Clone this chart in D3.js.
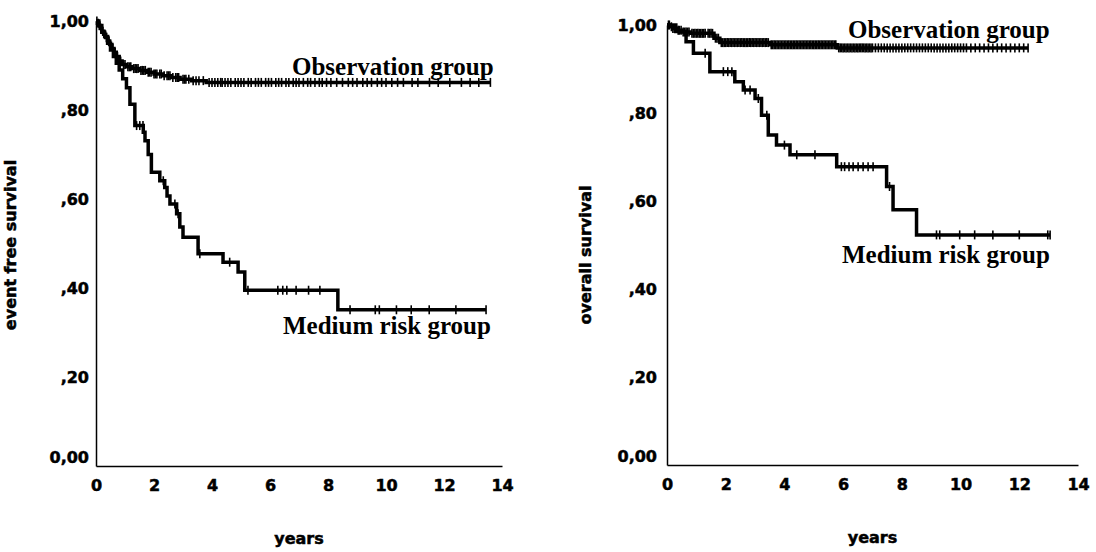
<!DOCTYPE html>
<html>
<head>
<meta charset="utf-8">
<script src="https://cdn.jsdelivr.net/npm/d3@7"></script>
<style>
  body { margin: 0; background: #fff; }
  .tick text, .axis-title { font-family: "DejaVu Sans", sans-serif; font-weight: bold; fill: #000; stroke: #000; stroke-width: 0.5px; }
  .grp { font-family: "Liberation Serif", "Times New Roman", serif; font-weight: bold; fill: #000; }
</style>
</head>
<body>
<svg width="1096" height="552"></svg>
<script>
// ---- data (years, survival) ----
var xTicks = [0, 2, 4, 6, 8, 10, 12, 14];
var yTicks = [0, 0.2, 0.4, 0.6, 0.8, 1.0];

// event free survival, observation group
var efsObsT = [0, 0.05, 0.1, 0.15, 0.2, 0.27, 0.33, 0.4, 0.47, 0.55, 0.62, 0.7, 0.8, 0.9, 1.05, 1.25, 1.5, 1.75, 2.0, 2.3, 2.6, 2.9, 3.3, 3.8];
var efsObsS = [1, 0.995, 0.99, 0.983, 0.977, 0.97, 0.963, 0.955, 0.947, 0.938, 0.93, 0.92, 0.91, 0.902, 0.897, 0.893, 0.889, 0.885, 0.881, 0.877, 0.873, 0.869, 0.866, 0.862];
var efsObsEnd = 13.6;
var efsObsCens = [0.03, 0.08, 0.12, 0.18, 0.23, 0.3, 0.36, 0.45, 0.5, 0.58, 0.66, 0.74, 0.85, 0.95, 1.0, 1.1, 1.15, 1.2, 1.3, 1.35, 1.4, 1.45, 1.55, 1.6, 1.65, 1.7, 1.8, 1.85, 1.9, 2.0, 2.05, 2.1, 2.2, 2.25, 2.35, 2.45, 2.5, 2.55, 2.65, 2.75, 2.8, 2.85, 3.0, 3.05, 3.1, 3.2, 3.35, 3.45, 3.55, 3.7, 3.9, 4.0, 4.1, 4.2, 4.3, 4.35, 4.45, 4.55, 4.65, 4.8, 4.9, 5.0, 5.1, 5.25, 5.35, 5.5, 5.6, 5.7, 5.85, 5.95, 6.05, 6.2, 6.3, 6.4, 6.55, 6.65, 6.8, 6.9, 7.0, 7.15, 7.3, 7.4, 7.55, 7.7, 7.8, 7.95, 8.1, 8.3, 8.5, 8.7, 8.85, 9.0, 9.2, 9.35, 9.5, 9.7, 9.85, 10.0, 10.2, 10.4, 10.6, 10.9, 11.1, 11.5, 11.8, 12.2, 12.6, 12.9, 13.2];

// event free survival, medium risk group
var efsMedT = [0, 0.1, 0.2, 0.3, 0.4, 0.5, 0.6, 0.7, 0.8, 0.92, 1.05, 1.17, 1.34, 1.63, 1.69, 1.8, 1.91, 2.2, 2.37, 2.45, 2.55, 2.78, 2.89, 3.0, 3.52, 4.38, 4.9, 5.13, 8.34];
var efsMedS = [1, 0.99, 0.975, 0.965, 0.95, 0.935, 0.92, 0.905, 0.89, 0.87, 0.85, 0.813, 0.765, 0.75, 0.731, 0.7, 0.66, 0.641, 0.626, 0.607, 0.589, 0.567, 0.537, 0.514, 0.477, 0.458, 0.436, 0.395, 0.351];
var efsMedEnd = 13.45;
var efsMedCens = [1.4, 1.51, 1.62, 2.32, 2.72, 2.83, 3.58, 4.61, 5.24, 6.27, 6.44, 6.58, 6.9, 7.33, 7.72, 8.76, 9.63, 9.77, 10.36, 10.87, 11.49, 12.41];

// overall survival, observation group
var osObsT = [0, 0.1, 0.2, 0.35, 0.5, 0.8, 1.6, 1.8, 3.5, 5.8];
var osObsS = [1, 0.996, 0.992, 0.988, 0.984, 0.981, 0.97, 0.96, 0.955, 0.948];
var osObsEnd = 12.3;
var osObsCens = [0.05, 0.08, 0.15, 0.2, 0.25, 0.3, 0.38, 0.42, 0.48, 0.55, 0.6, 0.65, 0.7, 0.75, 0.85, 0.9, 0.95, 1.0, 1.05, 1.1, 1.15, 1.2, 1.25, 1.3, 1.4, 1.45, 1.5, 1.55, 1.65, 1.7, 1.75, 1.85, 1.9, 1.95, 2.0, 2.05, 2.1, 2.15, 2.2, 2.25, 2.3, 2.35, 2.4, 2.45, 2.5, 2.55, 2.6, 2.65, 2.7, 2.75, 2.8, 2.85, 2.9, 2.95, 3.0, 3.05, 3.1, 3.15, 3.2, 3.25, 3.3, 3.35, 3.4, 3.45, 3.55, 3.6, 3.65, 3.7, 3.75, 3.8, 3.85, 3.9, 3.95, 4.0, 4.05, 4.1, 4.15, 4.2, 4.25, 4.3, 4.35, 4.4, 4.45, 4.5, 4.55, 4.6, 4.65, 4.7, 4.75, 4.8, 4.85, 4.9, 4.95, 5.0, 5.05, 5.1, 5.15, 5.2, 5.25, 5.3, 5.35, 5.4, 5.45, 5.5, 5.55, 5.6, 5.65, 5.7, 5.75, 5.85, 5.9, 5.95, 6.0, 6.05, 6.1, 6.15, 6.2, 6.25, 6.3, 6.35, 6.4, 6.45, 6.5, 6.55, 6.6, 6.65, 6.7, 6.75, 6.8, 6.85, 6.9, 6.95, 7.0, 7.1, 7.2, 7.3, 7.4, 7.5, 7.6, 7.7, 7.8, 7.9, 8.0, 8.1, 8.2, 8.3, 8.4, 8.5, 8.6, 8.7, 8.8, 8.9, 9.0, 9.1, 9.2, 9.3, 9.4, 9.5, 9.6, 9.7, 9.8, 9.9, 10.0, 10.1, 10.2, 10.35, 10.5, 10.65, 10.8, 10.95, 11.1, 11.25, 11.4, 11.55, 11.7, 11.85, 12.0, 12.15];

// overall survival, medium risk group
var osMedT = [0, 0.3, 0.65, 0.9, 1.46, 2.31, 2.6, 3.0, 3.22, 3.45, 3.73, 4.19, 5.78, 7.48, 7.7, 8.5];
var osMedS = [1, 0.985, 0.962, 0.936, 0.894, 0.871, 0.852, 0.833, 0.795, 0.75, 0.727, 0.705, 0.678, 0.633, 0.58, 0.523];
var osMedEnd = 13.05;
var osMedCens = [1.3, 1.92, 2.07, 2.21, 2.66, 2.83, 3.11, 3.4, 4.0, 4.42, 5.04, 5.94, 6.05, 6.2, 6.34, 6.51, 6.68, 6.85, 7.02, 7.58, 9.18, 9.29, 9.97, 10.48, 11.1, 12.0, 12.97];

var svg = d3.select("svg");

function yFormat(d) {
    var s = d3.format(".2f")(d).replace(".", ",");
    if (d > 0 && d < 1) s = s.slice(1);
    return s;
}

function survAt(T, S, t) {
    var i = d3.bisectRight(T, t) - 1;
    return S[Math.max(i, 0)];
}

function drawCurve(g, x, y, T, S, end, cens, width, markH) {
    var pts = T.map(function (t, i) { return [t, S[i]]; });
    pts.push([end, S[S.length - 1]]);
    var line = d3.line()
        .x(function (d) { return x(d[0]); })
        .y(function (d) { return y(d[1]); })
        .curve(d3.curveStepAfter);
    g.append("path")
        .datum(pts)
        .attr("fill", "none")
        .attr("stroke", "#000")
        .attr("stroke-width", width)
        .attr("d", line);
    g.selectAll(null)
        .data(cens.concat([end]))
        .enter().append("line")
        .attr("x1", function (d) { return x(d); })
        .attr("x2", function (d) { return x(d); })
        .attr("y1", function (d) { return y(survAt(T, S, d)) - markH; })
        .attr("y2", function (d) { return y(survAt(T, S, d)) + markH; })
        .attr("stroke", "#000")
        .attr("stroke-width", 1.6);
}

function drawPanel(p) {
    var x = d3.scaleLinear().domain([0, 14]).range([p.x0, p.x1]);
    var y = d3.scaleLinear().domain([0, 1]).range([p.y0, p.y1]);
    var g = svg.append("g");

    var ya = g.append("g")
        .attr("transform", "translate(" + p.x0 + ",0)")
        .call(d3.axisLeft(y).tickValues(yTicks).tickFormat(yFormat).tickSize(0).tickSizeOuter(0).tickPadding(p.yPad));
    ya.select(".domain").attr("stroke-width", 1.5);
    ya.selectAll(".tick text").style("font-size", "16px")
        .attr("dy", function (d) { return d === 0 ? "-0.2em" : "0.32em"; });

    var xa = g.append("g")
        .attr("transform", "translate(0," + p.y0 + ")")
        .call(d3.axisBottom(x).tickValues(xTicks).tickSize(0).tickSizeOuter(0).tickPadding(14));
    xa.select(".domain").attr("stroke-width", 1.5);
    xa.selectAll(".tick text").style("font-size", "16px");

    g.append("text").attr("class", "axis-title")
        .attr("x", (p.x0 + p.x1) / 2).attr("y", p.y0 + 78)
        .attr("text-anchor", "middle").style("font-size", "16px")
        .text("years");
    g.append("text").attr("class", "axis-title")
        .attr("transform", "translate(" + (p.x0 - p.titleDx) + "," + p.titleY + ") rotate(-90)")
        .attr("text-anchor", "middle").style("font-size", "16px")
        .text(p.yTitle);

    drawCurve(g, x, y, p.obsT, p.obsS, p.obsEnd, p.obsCens, 3.5, 4.5);
    drawCurve(g, x, y, p.medT, p.medS, p.medEnd, p.medCens, 3.5, 4.5);

    g.append("text").attr("class", "grp")
        .attr("x", p.obsLab[0]).attr("y", p.obsLab[1])
        .style("font-size", "25px")
        .text("Observation group");
    g.append("text").attr("class", "grp")
        .attr("x", p.medLab[0]).attr("y", p.medLab[1])
        .style("font-size", "25px")
        .text("Medium risk group");
}

drawPanel({
    x0: 96, x1: 502, y0: 466, y1: 21, yPad: 7, titleY: 245, titleDx: 80,
    yTitle: "event free survival",
    obsT: efsObsT, obsS: efsObsS, obsEnd: efsObsEnd, obsCens: efsObsCens,
    medT: efsMedT, medS: efsMedS, medEnd: efsMedEnd, medCens: efsMedCens,
    obsLab: [292, 75], medLab: [283, 334]
});

drawPanel({
    x0: 667, x1: 1078, y0: 465, y1: 25, yPad: 10, titleY: 255, titleDx: 76,
    yTitle: "overall survival",
    obsT: osObsT, obsS: osObsS, obsEnd: osObsEnd, obsCens: osObsCens,
    medT: osMedT, medS: osMedS, medEnd: osMedEnd, medCens: osMedCens,
    obsLab: [848, 38], medLab: [842, 263]
});
</script>
</body>
</html>
